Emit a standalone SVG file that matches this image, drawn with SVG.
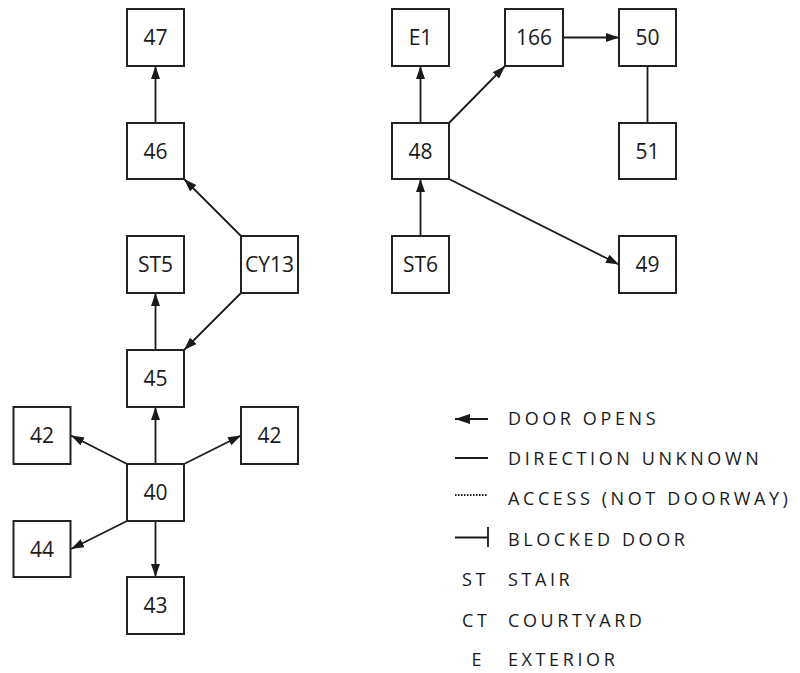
<svg xmlns="http://www.w3.org/2000/svg" width="800" height="673" viewBox="0 0 800 673">
<defs>
<marker id="arr" markerUnits="userSpaceOnUse" markerWidth="14" markerHeight="10" refX="13" refY="4.5" orient="auto">
<path d="M0,0 L13,4.5 L0,9 z" fill="#1a1a1a"/>
</marker>
<marker id="arrL" markerUnits="userSpaceOnUse" markerWidth="16" markerHeight="12" refX="15" refY="5" orient="auto">
<path d="M0,0 L15,5 L0,10 z" fill="#1a1a1a"/>
</marker>
<style>
.box{fill:#fff;stroke:#222;stroke-width:2}
.lbl{font-family:"Open Sans","Noto Sans",sans-serif;font-size:21px;fill:#1a1a1a;text-anchor:middle}
.e{stroke:#1a1a1a;stroke-width:1.8;fill:none}
.ea{stroke:#1a1a1a;stroke-width:1.8;fill:none;marker-end:url(#arr)}
.leg{font-family:"Open Sans","Noto Sans",sans-serif;font-size:18px;fill:#1a1a1a;letter-spacing:3.6px}
</style>
</defs>
<rect width="800" height="673" fill="#fff"/>
<g id="connectors">
<line class="ea" x1="155.5" y1="123" x2="155.5" y2="66"/>
<line class="ea" x1="241" y1="236" x2="184" y2="179"/>
<line class="ea" x1="241" y1="293" x2="184" y2="350"/>
<line class="ea" x1="155.5" y1="350" x2="155.5" y2="293"/>
<line class="ea" x1="155.5" y1="464" x2="155.5" y2="407"/>
<line class="ea" x1="127" y1="464" x2="71" y2="435.5"/>
<line class="ea" x1="184" y1="464" x2="241" y2="435.5"/>
<line class="ea" x1="127" y1="521" x2="71" y2="549"/>
<line class="ea" x1="155.5" y1="521" x2="155.5" y2="577"/>
<line class="ea" x1="420.5" y1="123" x2="420.5" y2="66"/>
<line class="ea" x1="449" y1="123" x2="505" y2="66"/>
<line class="ea" x1="563" y1="37.5" x2="619" y2="37.5"/>
<line class="e" x1="647.5" y1="66" x2="647.5" y2="123"/>
<line class="ea" x1="420.5" y1="236" x2="420.5" y2="179"/>
<line class="ea" x1="449" y1="179" x2="619" y2="264.5"/>
</g>
<g id="n47"><rect class="box" x="127" y="9" width="57" height="57"/><text class="lbl" x="155.5" y="45">47</text></g>
<g id="n46"><rect class="box" x="127" y="123" width="57" height="56"/><text class="lbl" x="155.5" y="158.5">46</text></g>
<g id="nST5"><rect class="box" x="127" y="236" width="57" height="57"/><text class="lbl" x="155.5" y="272">ST5</text></g>
<g id="nCY13"><rect class="box" x="241" y="236" width="57" height="57"/><text class="lbl" x="269.5" y="272">CY13</text></g>
<g id="n45"><rect class="box" x="127" y="350" width="57" height="57"/><text class="lbl" x="155.5" y="386">45</text></g>
<g id="n42a"><rect class="box" x="13.5" y="407" width="57" height="57"/><text class="lbl" x="42" y="443">42</text></g>
<g id="n42b"><rect class="box" x="241" y="407" width="57" height="57"/><text class="lbl" x="269.5" y="443">42</text></g>
<g id="n40"><rect class="box" x="127" y="464" width="57" height="57"/><text class="lbl" x="155.5" y="500">40</text></g>
<g id="n44"><rect class="box" x="13.5" y="521" width="57" height="56"/><text class="lbl" x="42" y="556.5">44</text></g>
<g id="n43"><rect class="box" x="127" y="577" width="57" height="57"/><text class="lbl" x="155.5" y="613">43</text></g>
<g id="nE1"><rect class="box" x="392" y="9" width="57" height="57"/><text class="lbl" x="420.5" y="45">E1</text></g>
<g id="n166"><rect class="box" x="505" y="9" width="58" height="57"/><text class="lbl" x="534" y="45">166</text></g>
<g id="n50"><rect class="box" x="619" y="9" width="57" height="57"/><text class="lbl" x="647.5" y="45">50</text></g>
<g id="n48"><rect class="box" x="392" y="123" width="57" height="56"/><text class="lbl" x="420.5" y="158.5">48</text></g>
<g id="n51"><rect class="box" x="619" y="123" width="57" height="56"/><text class="lbl" x="647.5" y="158.5">51</text></g>
<g id="nST6"><rect class="box" x="392" y="236" width="57" height="57"/><text class="lbl" x="420.5" y="272">ST6</text></g>
<g id="n49"><rect class="box" x="619" y="236" width="57" height="57"/><text class="lbl" x="647.5" y="272">49</text></g>
<g id="legend">
<line class="e" x1="488" y1="419" x2="455" y2="419" marker-end="url(#arrL)" stroke-width="2"/>
<text class="leg" x="508" y="425">DOOR OPENS</text>
<line class="e" x1="455" y1="458" x2="488" y2="458" stroke-width="2"/>
<text class="leg" x="508" y="465">DIRECTION UNKNOWN</text>
<line class="e" x1="455" y1="495" x2="488" y2="495" stroke-dasharray="1.5,1.5" stroke-width="1.3"/>
<text class="leg" x="508" y="505">ACCESS (NOT DOORWAY)</text>
<line class="e" x1="455" y1="537.5" x2="488" y2="537.5" stroke-width="2"/>
<line class="e" x1="488" y1="527" x2="488" y2="547" stroke-width="2"/>
<text class="leg" x="508" y="545.5">BLOCKED DOOR</text>
<text class="leg" x="462" y="585.5">ST</text>
<text class="leg" x="508" y="585.5">STAIR</text>
<text class="leg" x="462" y="626.5">CT</text>
<text class="leg" x="508" y="626.5">COURTYARD</text>
<text class="leg" x="471.5" y="666">E</text>
<text class="leg" x="508" y="666">EXTERIOR</text>
</g>
</svg>
